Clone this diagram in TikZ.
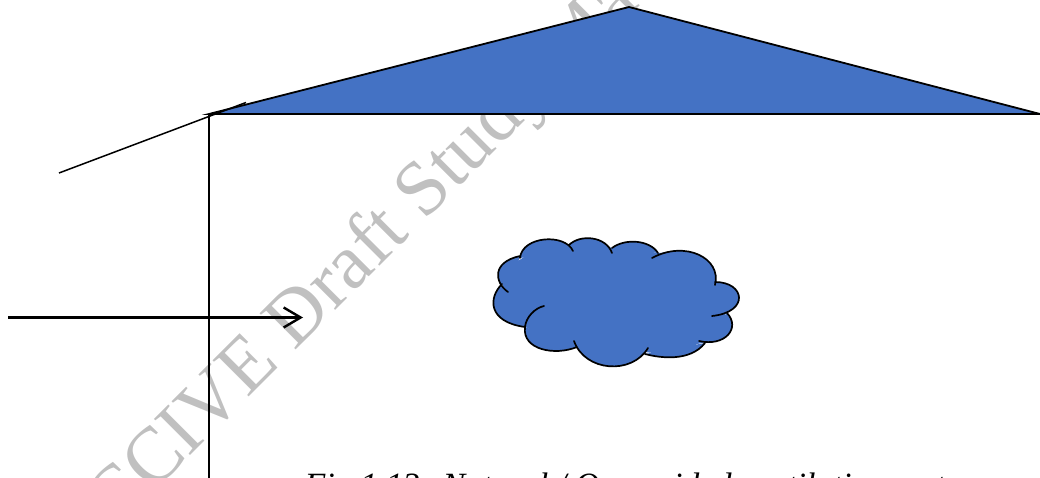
\documentclass[tikz,border=0pt]{standalone}
\usepackage{fontspec}
\usetikzlibrary{arrows.meta}
\setmainfont{Liberation Serif}
\definecolor{fillblue}{HTML}{4472C4}
\definecolor{wm}{HTML}{C0C0C0}
\tikzset{x=1pt,y=-1pt,
 outline/.style={draw=black,line width=1.8pt,line join=miter},
 thin line/.style={draw=black,line width=1.5pt},
 arcs/.style={draw=black,line width=1.7pt,line cap=round}}
\def\lobes{
 (502,284) .. controls (488,298) and (488,322) .. (525,327)
 (508,292) .. controls (494,282) and (492,262) .. (520,256)
 (520,258) .. controls (522,236) and (565,233) .. (573,251)
 (569,245) .. controls (580,234) and (606,236) .. (612,253)
 (612,248) .. controls (625,238) and (650,240) .. (658,253)
 (652,258) .. controls (685,240) and (722,258) .. (715,285)
 (715,282) .. controls (745,282) and (750,312) .. (712,316)
 (727,313) .. controls (741,328) and (725,347) .. (699,341)
 (705,343) .. controls (690,362) and (660,358) .. (645,354)
 (648,348) .. controls (632,375) and (585,372) .. (574,341)
 (577,347) .. controls (555,356) and (522,350) .. (525,327)
 (525,327) .. controls (526,317) and (535,308) .. (544,306)
}
\begin{document}
\begin{tikzpicture}
\useasboundingbox (0,0) rectangle (1040,478);
\clip (0,0) rectangle (1040,478);
\node[anchor=base,rotate=45,text=wm,font=\fontsize{78}{78}\selectfont,inner sep=0pt] (wmark) at (378,268) {CCIVE Draft Study Ma};
\coordinate (ra) at (209,114);
\coordinate (rb) at (629,7);
\coordinate (rc) at (1040,114);
\coordinate (ea) at (59,173);
\coordinate (eb) at (246,102.5);
\coordinate (wb) at (209,478);
\coordinate (as) at (8,317.5);
\coordinate (at) at (303,317.5);
\filldraw[outline,fill=fillblue] (ra) -- (rb) -- (rc) -- cycle;
\draw[thin line] (ea) -- (eb);
\draw[thin line] (ra) -- (wb);
\draw[line width=2.4pt,-{Straight Barb[length=17pt,width=20pt,line width=2.4pt]}] (as) -- (at);
\filldraw[draw=fillblue,fill=fillblue,line width=6pt,line join=round] (547,245) -- (570,248) -- (590,245) -- (612,251) -- (632,247) -- (655,256) -- (683,255) -- (711,286) -- (725,300) -- (721,312) -- (726,325) -- (718,336) -- (697,341) -- (670,352) -- (645,349) -- (610,362) -- (577,343) -- (550,345) -- (530,326) -- (510,315) -- (508,288) -- (505,270) -- (522,262) -- cycle;
\fill[fillblue] \lobes;
\draw[arcs] \lobes;
\node[anchor=base west,inner sep=0pt,font=\fontsize{34}{34}\selectfont\itshape] (cap) at (304.5,496.5) {Fig 1.13: Natural / Open-sided ventilation system};
\end{tikzpicture}
\end{document}
